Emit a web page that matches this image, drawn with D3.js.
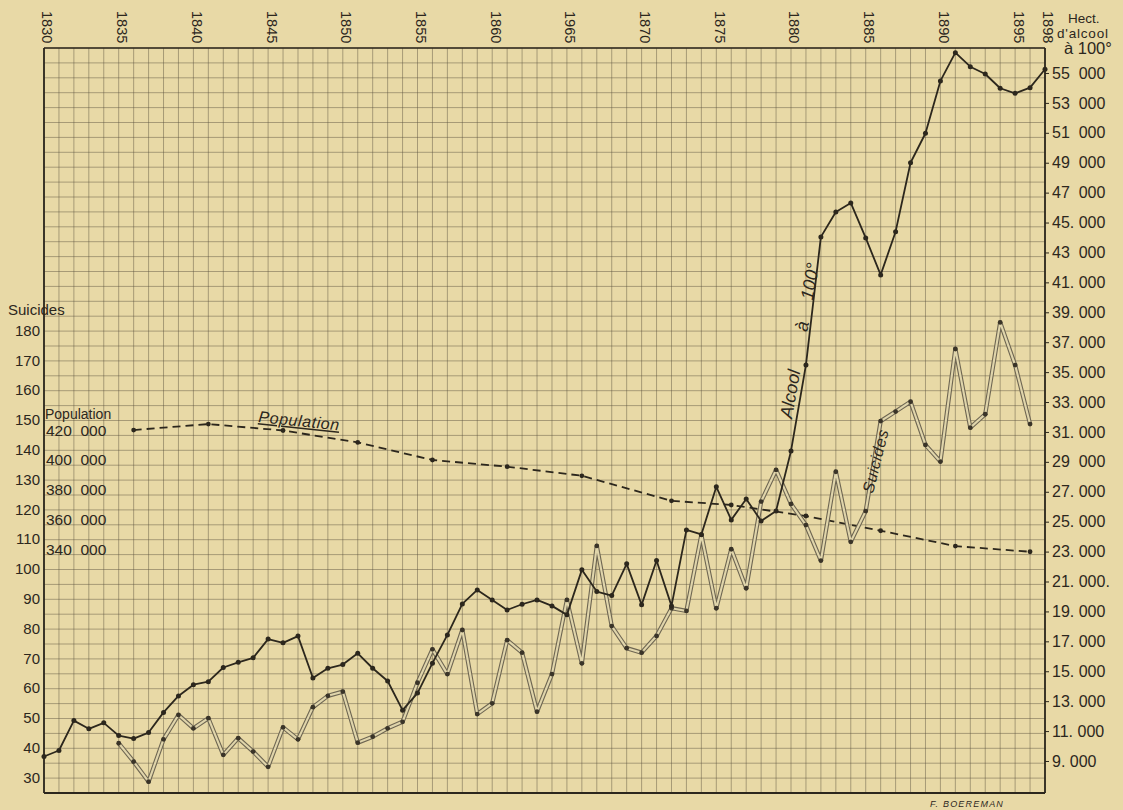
<!DOCTYPE html>
<html><head><meta charset="utf-8">
<script src="https://cdn.jsdelivr.net/npm/d3@7"></script>
<style>
html,body{margin:0;padding:0;background:#e8d9a6;}
svg{display:block;}
text{font-family:"Liberation Sans","DejaVu Sans",sans-serif;fill:#2c271d;}
</style></head><body>
<svg id="chart" width="1123" height="810"></svg>
<script>
// ---------------- DATA ----------------
const alcoholYears = [1830,1831,1832,1833,1834,1835,1836,1837,1838,1839,
  1840,1841,1842,1843,1844,1845,1846,1847,1848,1849,
  1850,1851,1852,1853,1854,1855,1856,1857,1858,1859,
  1860,1861,1862,1863,1864,1865,1866,1867,1868,1869,
  1870,1871,1872,1873,1874,1875,1876,1877,1878,1879,
  1880,1881,1882,1883,1884,1885,1886,1887,1888,1889,
  1890,1891,1892,1893,1894,1895,1896,1897];
// Hectolitres d'alcool à 100°
const alcoholValues = [9300,9700,11700,11150,11550,10700,10500,10900,12250,13350,
  14100,14300,15250,15600,15900,17150,16900,17350,14550,15200,
  15450,16200,15200,14350,12400,13540,15540,17430,19500,20440,
  19770,19100,19480,19770,19370,18770,21780,20330,20060,22180,
  19440,22400,19370,24450,24150,27330,25120,26520,25050,25720,
  29730,35480,44040,45710,46310,43970,41500,44390,49000,50970,
  54470,56360,55420,54930,53980,53640,54020,55250];

const suicideYears = [1835,1836,1837,1838,1839,
  1840,1841,1842,1843,1844,1845,1846,1847,1848,1849,
  1850,1851,1852,1853,1854,1855,1856,1857,1858,1859,
  1860,1861,1862,1863,1864,1865,1866,1867,1868,1869,
  1870,1871,1872,1873,1874,1875,1876,1877,1878,1879,
  1880,1881,1882,1883,1884,1885,1886,1887,1888,1889,
  1890,1891,1892,1893,1894,1895,1896];
const suicideValues = [41.7,35.5,28.8,43.0,51.2,
  46.7,50.1,37.8,43.4,38.9,33.8,47.0,43.0,53.8,57.6,
  59.0,41.9,43.9,46.7,48.9,62.0,73.2,64.9,79.7,51.5,
  55.1,76.3,72.1,52.3,64.9,89.8,68.5,107.9,81.0,73.6,
  72.1,77.7,87.0,86.1,111.6,87.0,106.8,93.7,122.8,133.4,
  122.0,114.9,103.0,132.8,109.3,119.6,149.8,153.0,156.3,141.8,
  136.2,174.0,147.6,152.1,182.9,168.6,148.8];

const populationYears = [1836,1841,1846,1851,1856,1861,1866,1872,1876,1881,1886,1891,1896];
const populationValues = [420000,424000,419700,411700,399900,395400,389300,372500,369700,362300,352400,342100,338300];

const yearTicks = [1830,1835,1840,1845,1850,1855,1860,1865,1870,1875,1880,1885,1890,1895,1897];
const yearTickLabels = ["1830","1835","1840","1845","1850","1855","1860","1965","1870","1875","1880","1885","1890","1895","1898"];

const suicideTicks = [30,40,50,60,70,80,90,100,110,120,130,140,150,160,170,180];

const alcoholTicks = [55000,53000,51000,49000,47000,45000,43000,41000,39000,37000,35000,33000,
  31000,29000,27000,25000,23000,21000,19000,17000,15000,13000,11000,9000];
const alcoholTickLabels = ["55  000","53  000","51  000","49  000","47  000","45. 000","43  000","41. 000",
  "39. 000","37. 000","35. 000","33. 000","31. 000","29  000","27. 000","25. 000","23. 000","21. 000.",
  "19. 000","17. 000","15. 000","13. 000","11. 000","9. 000"];

const populationTicks = [420000,400000,380000,360000,340000];
const populationTickLabels = ["420  000","400  000","380  000","360  000","340  000"];

(function () {
// ---------------- LAYOUT ----------------
const W = 1123, H = 810;
const pL = 44, pR = 1045, pT = 48, pB = 793;
const ink = "#2c271d";

const svg = d3.select("#chart");
svg.append("rect").attr("width", W).attr("height", H).attr("fill", "#e8d9a6");

const x = d3.scaleLinear().domain([1830, 1897]).range([pL, pR]);
const yS = d3.scaleLinear().domain([25, 275]).range([pB, pT]);
const yA = d3.scaleLinear().domain([6860, 56670]).range([pB, pT]);
const yP = d3.scaleLinear().domain([176400, 676400]).range([pB, pT]);

// grid
const grid = svg.append("g").attr("stroke", "#5a523f").attr("stroke-opacity", 0.55).attr("stroke-width", 0.85);
grid.selectAll("line.v").data(alcoholYears).join("line").attr("class", "v")
  .attr("x1", d => x(d)).attr("x2", d => x(d)).attr("y1", pT).attr("y2", pB);
grid.selectAll("line.h").data(d3.range(25, 276, 5)).join("line").attr("class", "h")
  .attr("y1", d => yS(d)).attr("y2", d => yS(d)).attr("x1", pL).attr("x2", pR);

// frame
const frame = svg.append("g").attr("stroke", ink).attr("fill", "none");
frame.append("line").attr("x1", pL).attr("x2", pR).attr("y1", pT).attr("y2", pT).attr("stroke-width", 1.4);
frame.append("line").attr("x1", pL).attr("x2", pR).attr("y1", pB).attr("y2", pB).attr("stroke-width", 2.2);
frame.append("line").attr("x1", pL).attr("x2", pL).attr("y1", pT).attr("y2", pB).attr("stroke-width", 1.8);
frame.append("line").attr("x1", pR).attr("x2", pR).attr("y1", pT).attr("y2", pB).attr("stroke-width", 1.8);

// ---------------- AXES ----------------
const xAxis = svg.append("g").attr("transform", `translate(0,11)`)
  .call(d3.axisTop(x).tickValues(yearTicks).tickFormat((d, i) => yearTickLabels[i]).tickSize(0));
xAxis.select(".domain").remove();
xAxis.selectAll("text")
  .attr("transform", "rotate(90)").attr("x", 0).attr("y", -3).attr("dy", "0.35em")
  .attr("text-anchor", "start").style("font-size", "14.5px").attr("fill", ink);

const sAxis = svg.append("g").attr("transform", `translate(${pL},0)`)
  .call(d3.axisLeft(yS).tickValues(suicideTicks).tickSize(0).tickPadding(4));
sAxis.select(".domain").remove();
sAxis.selectAll("text").style("font-size", "15px").attr("fill", ink).attr("dy", "0.28em");
svg.append("text").attr("x", 8).attr("y", 315).text("Suicides").style("font-size", "15px");

const pAxis = svg.append("g").attr("transform", `translate(${pL},0)`)
  .call(d3.axisRight(yP).tickValues(populationTicks).tickFormat((d, i) => populationTickLabels[i]).tickSize(0).tickPadding(2));
pAxis.select(".domain").remove();
pAxis.selectAll("text").style("font-size", "15.5px").style("white-space", "pre").attr("fill", ink);
svg.append("text").attr("x", 45).attr("y", 419).text("Population").style("font-size", "14px");

const aAxis = svg.append("g").attr("transform", `translate(${pR},0)`)
  .call(d3.axisRight(yA).tickValues(alcoholTicks).tickFormat((d, i) => alcoholTickLabels[i]).tickSize(4).tickPadding(3));
aAxis.select(".domain").remove();
aAxis.selectAll("line").attr("stroke", ink).attr("stroke-width", 1);
aAxis.selectAll("text").style("font-size", "16px").style("white-space", "pre").attr("fill", ink);

const unit = svg.append("g");
unit.append("text").attr("x", 1068).attr("y", 23).text("Hect.").style("font-size", "13.5px");
unit.append("text").attr("x", 1057).attr("y", 38).text("d'alcool").style("font-size", "13.5px").style("letter-spacing", "0.8px");
unit.append("text").attr("x", 1064).attr("y", 54).text("à 100°").style("font-size", "16.5px");

// ---------------- SERIES ----------------
const popData = populationYears.map((yr, i) => [yr, populationValues[i]]);
svg.append("path").datum(popData)
  .attr("d", d3.line().x(d => x(d[0])).y(d => yP(d[1])))
  .attr("fill", "none").attr("stroke", ink).attr("stroke-width", 1.8).attr("stroke-dasharray", "8,5");
svg.selectAll("circle.pop").data(popData).join("circle").attr("class", "pop")
  .attr("cx", d => x(d[0])).attr("cy", d => yP(d[1])).attr("r", 2.4).attr("fill", ink);

const suiData = suicideYears.map((yr, i) => [yr, suicideValues[i]]);
const suiLine = d3.line().x(d => x(d[0])).y(d => yS(d[1]));
svg.append("path").datum(suiData).attr("d", suiLine)
  .attr("fill", "none").attr("stroke", "#6e6652").attr("stroke-width", 4.3).attr("stroke-linejoin", "round");
svg.append("path").datum(suiData).attr("d", suiLine)
  .attr("fill", "none").attr("stroke", "#e0d5ab").attr("stroke-width", 2.1).attr("stroke-linejoin", "round");
svg.selectAll("circle.sui").data(suiData).join("circle").attr("class", "sui")
  .attr("cx", d => x(d[0])).attr("cy", d => yS(d[1])).attr("r", 2.4).attr("fill", "#3a3428");

const alcData = alcoholYears.map((yr, i) => [yr, alcoholValues[i]]);
svg.append("path").datum(alcData)
  .attr("d", d3.line().x(d => x(d[0])).y(d => yA(d[1])))
  .attr("fill", "none").attr("stroke", ink).attr("stroke-width", 1.8).attr("stroke-linejoin", "round");
svg.selectAll("circle.alc").data(alcData).join("circle").attr("class", "alc")
  .attr("cx", d => x(d[0])).attr("cy", d => yA(d[1])).attr("r", 2.5).attr("fill", ink);

// ---------------- ANNOTATIONS ----------------
svg.append("text").attr("transform", "translate(258,422) rotate(6)")
  .text("Population").style("font-size", "16px").style("font-style", "italic")
  .style("text-decoration", "underline").style("letter-spacing", "0.6px");

const alc = svg.append("text").attr("transform", "translate(792,419) rotate(-80)")
  .style("font-size", "18px").style("font-style", "italic");
alc.append("tspan").attr("x", 0).text("Alcool");
alc.append("tspan").attr("x", 88).text("à");
alc.append("tspan").attr("x", 120).text("100°");

svg.append("text").attr("transform", "translate(873,494) rotate(-76)")
  .text("Suicides").style("font-size", "16px").style("font-style", "italic").style("letter-spacing", "0.6px");

svg.append("text").attr("x", 930).attr("y", 807).text("F. BOEREMAN")
  .style("font-size", "9px").style("font-style", "italic").style("letter-spacing", "1.2px").attr("fill", "#4a4334");
})();
</script>
</body></html>
